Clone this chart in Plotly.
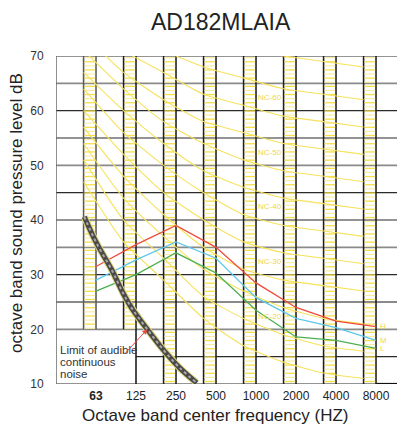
import numpy as np
import plotly.graph_objects as go

# Octave band centre frequencies (Hz)
bands = ["63", "125", "250", "500", "1000", "2000", "4000", "8000"]

# Noise Criterion reference curves, dB per octave band
nc15 = [47, 36, 29, 22, 17, 14, 12, 11]
nc20 = [51, 40, 33, 26, 22, 19, 17, 16]
nc25 = [54, 44, 37, 31, 27, 24, 22, 21]
nc30 = [57, 48, 41, 35, 31, 29, 28, 27]
nc35 = [60, 52, 45, 40, 36, 34, 33, 32]
nc40 = [64, 56, 50, 45, 41, 39, 38, 37]
nc45 = [67, 60, 54, 49, 46, 44, 43, 42]
nc50 = [71, 64, 58, 54, 51, 49, 48, 47]
nc55 = [74, 67, 62, 58, 56, 54, 53, 52]
nc60 = [77, 71, 67, 63, 61, 59, 58, 57]
nc65 = [80, 75, 71, 68, 66, 64, 63, 62]
nc70 = [83, 79, 75, 72, 71, 70, 69, 68]
nc_labelled = [20, 30, 40, 50, 60]

# Unit sound pressure levels at high / medium / low fan speed (dB)
level_h = [31.5, 35.5, 39.0, 35.0, 28.5, 24.0, 21.5, 20.5]
level_m = [29.0, 32.7, 36.0, 33.0, 25.8, 22.0, 20.3, 18.0]
level_l = [27.0, 30.0, 34.0, 30.3, 23.5, 18.6, 18.0, 16.5]

# Threshold of audible continuous noise
thr_freq = [51, 63, 82, 100, 116, 152, 200, 268, 358]
thr_db = [40.6, 35.8, 30.9, 26.6, 23.9, 20.0, 16.3, 12.9, 10.2]

FONT = "Liberation Sans, Arial, sans-serif"
YEL = "#f6e25c"
X_MAX = 8.525
NC_SHIFT = 0.31

band_x = np.arange(1, len(bands) + 1)
nc_x = band_x - NC_SHIFT
thr_x = 1 + np.log2(np.array(thr_freq) / 62.5)

fig = go.Figure()

# yellow scale ticks inside each band column (alternating strong / pale)
strong_x, strong_y, pale_x, pale_y = [], [], [], []
for k in band_x:
    y_min = 20 if k <= 2 else 10
    for i, y in enumerate(np.arange(10.45, 70, 0.75)):
        if y < y_min + 0.2:
            continue
        seg_x = [k - NC_SHIFT + 0.02, k - 0.02, None]
        seg_y = [y, y, None]
        if i % 2 == 0:
            strong_x += seg_x
            strong_y += seg_y
        else:
            pale_x += seg_x
            pale_y += seg_y
fig.add_trace(go.Scatter(x=strong_x, y=strong_y, mode="lines",
                         line=dict(color="#f5df4c", width=1.3),
                         hoverinfo="skip", showlegend=False))
fig.add_trace(go.Scatter(x=pale_x, y=pale_y, mode="lines",
                         line=dict(color="#f9ec9e", width=1.1),
                         hoverinfo="skip", showlegend=False))

# NC curves
nc_sets = [(15, nc15), (20, nc20), (25, nc25), (30, nc30), (35, nc35), (40, nc40),
           (45, nc45), (50, nc50), (55, nc55), (60, nc60), (65, nc65), (70, nc70)]
for lvl, vals in nc_sets:
    fig.add_trace(go.Scatter(x=nc_x, y=vals, mode="lines",
                             line=dict(color=YEL, width=1.1, shape="spline", smoothing=0.6),
                             name=f"NC-{lvl}", hoverinfo="skip", showlegend=False))

# measured spectra
for vals, col, tag in [(level_h, "#ef4a3c", "H"), (level_m, "#5cc8ec", "M"), (level_l, "#4caf50", "L")]:
    fig.add_trace(go.Scatter(x=band_x, y=vals, mode="lines",
                             line=dict(color=col, width=1.3), name=tag, showlegend=False))
    fig.add_annotation(x=band_x[-1] + 0.05, y=vals[-1], text=tag, showarrow=False,
                       xanchor="left", yanchor="middle",
                       font=dict(family=FONT, size=8, color="#efd94a"))

# hearing threshold band
fig.add_trace(go.Scatter(x=thr_x, y=thr_db, mode="lines",
                         line=dict(color="#ddd27a", width=7, shape="spline"),
                         hoverinfo="skip", showlegend=False))
fig.add_trace(go.Scatter(x=thr_x, y=thr_db, mode="lines",
                         line=dict(color="#4a4a4a", width=5, shape="spline"),
                         hoverinfo="skip", showlegend=False))
fig.add_trace(go.Scatter(x=thr_x, y=thr_db, mode="lines",
                         line=dict(color="#a8a8a8", width=2, shape="spline", dash="dot"),
                         hoverinfo="skip", showlegend=False))

# grid: horizontal lines every 5 dB
grey_rows = {65, 50, 35, 25, 20}
shapes = []
for y in range(10, 71, 5):
    grey = y in grey_rows
    x0 = 2 if y == 15 else 0
    shapes.append(dict(type="line", xref="x", yref="y", x0=x0, x1=X_MAX, y0=y, y1=y,
                       line=dict(color="#8a8a8a" if grey else "#2a2a2a",
                                 width=1.8 if grey else 1.1), layer="below"))
# bottom-right heavy tail
shapes.append(dict(type="line", xref="x", yref="y", x0=8, x1=X_MAX, y0=10, y1=10,
                   line=dict(color="#111", width=2.2), layer="below"))
# left border
shapes.append(dict(type="line", xref="x", yref="y", x0=0, x1=0, y0=10, y1=70,
                   line=dict(color="#6a6a6a", width=1.5), layer="below"))
# paired band column lines
for k in band_x:
    for xv, full in [(k - NC_SHIFT, k > 2), (k, k > 1)]:
        col = "#5a5a5a" if k == 1 else "#1e1e1e"
        shapes.append(dict(type="line", xref="x", yref="y", x0=xv, x1=xv,
                           y0=10 if full else 20, y1=70,
                           line=dict(color=col, width=1.6), layer="below"))

fig.update_layout(shapes=shapes)

# NC curve labels
for lvl in nc_labelled:
    fig.add_annotation(x=5.35, y=lvl + 2.4, text=f"NC-{lvl}", showarrow=False,
                       xanchor="center", yanchor="middle",
                       font=dict(family=FONT, size=8, color="#eed650"))

# threshold caption and pointer
for txt, py in [("Limit of audible", 350.3), ("continuous", 362.0), ("noise", 373.7)]:
    fig.add_annotation(xref="paper", yref="paper", x=(58 - 56) / 341, y=(384 - py) / 328,
                       text=txt, showarrow=False, xanchor="left", yanchor="middle",
                       font=dict(family=FONT, size=11.5, color="#333"))
fig.add_annotation(x=thr_x[5], y=thr_db[5], ax=-24, ay=26, text="", showarrow=True,
                   arrowhead=2, arrowsize=1, arrowwidth=1, arrowcolor="#ef4a3c")

# titles
fig.add_annotation(xref="paper", yref="paper", x=(221 - 56) / 341, y=(384 - 22) / 328,
                   text="AD182MLAIA", showarrow=False, xanchor="center", yanchor="middle",
                   font=dict(family=FONT, size=23, color="#222"))
fig.add_annotation(xref="paper", yref="paper", x=(215 - 56) / 341, y=(384 - 415) / 328,
                   text="Octave band center frequency (HZ)", showarrow=False,
                   xanchor="center", yanchor="middle",
                   font=dict(family=FONT, size=17, color="#222"))
fig.add_annotation(xref="paper", yref="paper", x=(16 - 56) / 341, y=(384 - 213) / 328,
                   text="octave band sound pressure level dB", showarrow=False,
                   textangle=-90, xanchor="center", yanchor="middle",
                   font=dict(family=FONT, size=17, color="#222"))

tick_text = ["<b>63</b>"] + bands[1:]
fig.update_xaxes(range=[0, X_MAX], showgrid=False, zeroline=False, showline=False,
                 tickmode="array", tickvals=band_x, ticktext=tick_text,
                 ticks="outside", ticklen=1, tickcolor="rgba(0,0,0,0)",
                 tickfont=dict(family=FONT, size=12, color="#222"), fixedrange=True)
fig.update_yaxes(range=[10, 70], showgrid=False, zeroline=False, showline=False,
                 tickmode="array", tickvals=list(range(10, 71, 10)),
                 ticks="outside", ticklen=9, tickcolor="rgba(0,0,0,0)",
                 tickfont=dict(family=FONT, size=12, color="#333"), fixedrange=True)

fig.update_layout(width=397, height=426, autosize=False,
                  margin=dict(l=56, r=0, t=56, b=42),
                  plot_bgcolor="white", paper_bgcolor="white", showlegend=False)

fig.write_html("out.html")
